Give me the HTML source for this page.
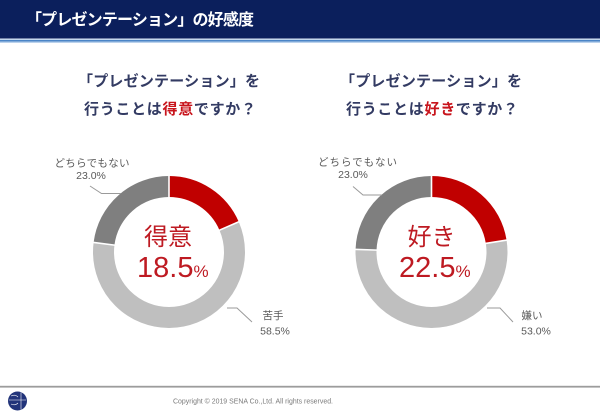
<!DOCTYPE html>
<html><head><meta charset="utf-8">
<style>
html,body{margin:0;padding:0;background:#fff;}
svg{display:block;}
.jp{font-family:"Liberation Sans","Noto Sans CJK JP",sans-serif;}
</style></head>
<body>
<svg width="600" height="415" viewBox="0 0 600 415" xmlns="http://www.w3.org/2000/svg">
  <rect x="0" y="0" width="600" height="415" fill="#ffffff"/>
  <!-- header -->
  <rect x="0" y="0" width="600" height="38.5" fill="#0b1f5c"/>
  <rect x="0" y="38.5" width="600" height="1.3" fill="#dbe6f4"/>
  <rect x="0" y="39.8" width="600" height="1.9" fill="#4a84c6"/>
  <rect x="0" y="41.7" width="600" height="1.2" fill="#b4cdea"/>
  <text x="26" y="25" class="jp" font-size="16" font-weight="bold" fill="#ffffff" textLength="228" lengthAdjust="spacing">「プレゼンテーション」の好感度</text>

  <!-- questions -->
  <g class="jp" font-size="15" font-weight="bold" fill="#333b63" text-anchor="middle">
    <text x="169" y="86" textLength="182" lengthAdjust="spacing">「プレゼンテーション」を</text>
    <text x="170" y="114" textLength="172" lengthAdjust="spacing">行うことは<tspan fill="#c8141c">得意</tspan>ですか？</text>
    <text x="431" y="86" textLength="182" lengthAdjust="spacing">「プレゼンテーション」を</text>
    <text x="432" y="114" textLength="172" lengthAdjust="spacing">行うことは<tspan fill="#c8141c">好き</tspan>ですか？</text>
  </g>

  <!-- donut 1 -->
  <g transform="rotate(-90 169 252)" fill="none" stroke-width="21">
    <circle cx="169" cy="252" r="65.5" stroke="#c00000" stroke-dasharray="76.14 411.55" stroke-dashoffset="0"/>
    <circle cx="169" cy="252" r="65.5" stroke="#bfbfbf" stroke-dasharray="240.76 411.55" stroke-dashoffset="-76.14"/>
    <circle cx="169" cy="252" r="65.5" stroke="#7f7f7f" stroke-dasharray="94.65 411.55" stroke-dashoffset="-316.9"/>
  </g>
  <g stroke="#ffffff" stroke-width="1.6">
    <line x1="169" y1="198" x2="169" y2="174" transform="rotate(0 169 252)"/>
    <line x1="169" y1="198" x2="169" y2="174" transform="rotate(66.6 169 252)"/>
    <line x1="169" y1="198" x2="169" y2="174" transform="rotate(277.2 169 252)"/>
  </g>

  <!-- donut 2 -->
  <g transform="rotate(-90 431.5 252)" fill="none" stroke-width="21">
    <circle cx="431.5" cy="252" r="65.5" stroke="#c00000" stroke-dasharray="92.6 411.55" stroke-dashoffset="0"/>
    <circle cx="431.5" cy="252" r="65.5" stroke="#bfbfbf" stroke-dasharray="218.35 411.55" stroke-dashoffset="-92.6"/>
    <circle cx="431.5" cy="252" r="65.5" stroke="#7f7f7f" stroke-dasharray="100.6 411.55" stroke-dashoffset="-310.95"/>
  </g>
  <g stroke="#ffffff" stroke-width="1.6">
    <line x1="431.5" y1="198" x2="431.5" y2="174" transform="rotate(0 431.5 252)"/>
    <line x1="431.5" y1="198" x2="431.5" y2="174" transform="rotate(81 431.5 252)"/>
    <line x1="431.5" y1="198" x2="431.5" y2="174" transform="rotate(272 431.5 252)"/>
  </g>

  <!-- center texts -->
  <g fill="#be1a22">
    <text x="168" y="245" class="jp" font-size="24" text-anchor="middle">得意</text>
    <text x="137" y="277" font-family="Liberation Sans, sans-serif" font-size="29">18.5<tspan font-size="17">%</tspan></text>
    <text x="431.5" y="245" class="jp" font-size="24" text-anchor="middle">好き</text>
    <text x="399" y="277" font-family="Liberation Sans, sans-serif" font-size="29">22.5<tspan font-size="17">%</tspan></text>
  </g>

  <!-- leader lines -->
  <g fill="none" stroke="#9a9a9a" stroke-width="1">
    <polyline points="90,186 101.5,193.5 121,193.5"/>
    <polyline points="227,308 237,308 252,322"/>
    <polyline points="353,186.5 363,195 382,195"/>
    <polyline points="487,308 500,308 513,322"/>
  </g>

  <!-- labels -->
  <g class="jp" font-size="10.5" fill="#595959" text-anchor="middle">
    <text x="92" y="166.5" textLength="75" lengthAdjust="spacing">どちらでもない</text>
    <text x="91" y="178.8" font-family="Liberation Sans, sans-serif">23.0%</text>
    <text x="273" y="319">苦手</text>
    <text x="275" y="334.5" font-family="Liberation Sans, sans-serif">58.5%</text>
    <text x="357.5" y="165.5" textLength="79" lengthAdjust="spacing">どちらでもない</text>
    <text x="353" y="178" font-family="Liberation Sans, sans-serif">23.0%</text>
    <text x="532" y="319">嫌い</text>
    <text x="536" y="334.5" font-family="Liberation Sans, sans-serif">53.0%</text>
  </g>

  <!-- footer -->
  <rect x="0" y="385.8" width="600" height="1.8" fill="#9c9c9c"/>
  <text x="253" y="403.5" font-family="Liberation Sans, sans-serif" font-size="7.5" fill="#7a7a7a" text-anchor="middle" textLength="160" lengthAdjust="spacingAndGlyphs">Copyright © 2019 SENA Co.,Ltd. All rights reserved.</text>
  <circle cx="17.5" cy="401" r="9.5" fill="#22347a"/>
  <g stroke="#ffffff" stroke-width="0.6" fill="none">
    <line x1="21" y1="392.5" x2="21" y2="409.5"/>
    <line x1="9" y1="400" x2="26" y2="400"/>
    <path d="M11 396 Q15 394 18 397"/>
    <path d="M11 404 Q15 406 18 403"/>
  </g>
</svg>
</body></html>
